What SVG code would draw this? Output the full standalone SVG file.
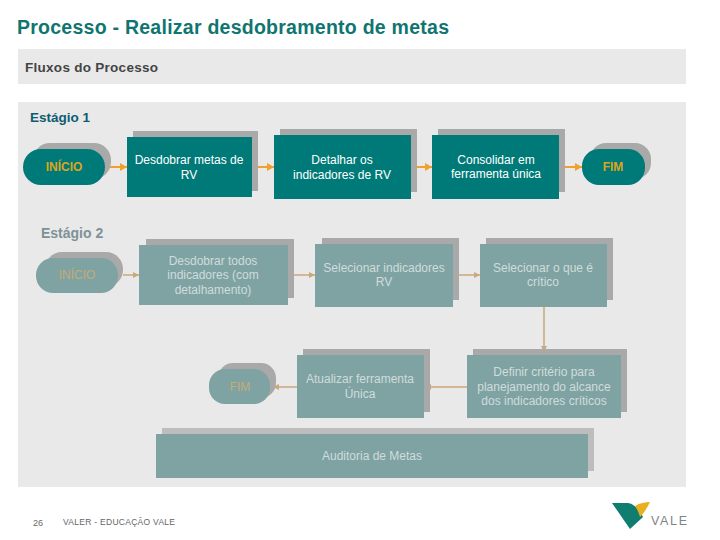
<svg xmlns="http://www.w3.org/2000/svg" width="720" height="540" viewBox="0 0 720 540">
<style>
text{font-family:"Liberation Sans",Arial,sans-serif}
.s{fill:#a9a9a9}
.a{fill:#007a78}
.m{fill:#7fa3a3}
.ta{fill:#fff;font-size:12px;text-anchor:middle}
.tm{fill:#cfdcdc;font-size:12px;text-anchor:middle}
.ga{fill:#dba51f;font-size:12px;font-weight:bold;text-anchor:middle}
.gm{fill:#c4ac78;font-size:12px;text-anchor:middle}
.ca{stroke:#f0a030;stroke-width:2;fill:none;marker-end:url(#ha)}
.cm{stroke:#c9a97c;stroke-width:1.5;fill:none;marker-end:url(#hm)}
</style>
<defs>
<marker id="ha" markerUnits="userSpaceOnUse" markerWidth="8" markerHeight="8" refX="7" refY="4" orient="auto"><path d="M0 0L7 4L0 8z" fill="#f0a030"/></marker>
<marker id="hm" markerUnits="userSpaceOnUse" markerWidth="6" markerHeight="6" refX="6" refY="3" orient="auto"><path d="M0 0L6 3L0 6z" fill="#c9a97c"/></marker>
</defs>
<rect width="720" height="540" fill="#fff"/>
<text x="17" y="34" font-size="19.5" font-weight="bold" fill="#0f7570" textLength="432">Processo - Realizar desdobramento de metas</text>
<rect x="18" y="49" width="668" height="35" fill="#e9e9e9"/>
<text x="25" y="72" font-size="13.5" font-weight="bold" fill="#444" textLength="133">Fluxos do Processo</text>
<rect x="18" y="102" width="668" height="385" fill="#e9e9e9"/>
<text x="30" y="122" font-size="13.5" font-weight="bold" fill="#0f5c70">Estágio 1</text>
<text x="41" y="238" font-size="14" font-weight="bold" fill="#7d9298">Estágio 2</text>

<g id="connectors">
<path class="ca" d="M105 167H127"/>
<path class="ca" d="M252 167H274"/>
<path class="ca" d="M411 167H432"/>
<path class="ca" d="M559 167H582"/>
<path class="cm" d="M123 275H139"/>
<path class="cm" d="M288 275H315"/>
<path class="cm" d="M453 275H480"/>
<path class="cm" d="M544 307V352"/>
<path class="cm" d="M467 387H425"/>
<path class="cm" d="M297 387H273"/>
</g>

<g id="n-inicio1"><rect class="s" x="33" y="143" width="78" height="36" rx="17"/><rect class="a" x="23" y="149" width="82" height="36" rx="18"/><text class="ga" x="64" y="171">INÍCIO</text></g>
<g id="n-desdobrar-metas"><rect class="s" x="133" y="131" width="125" height="60"/><rect class="a" x="127" y="137" width="125" height="60"/><text class="ta" x="189" y="164">Desdobrar metas de</text><text class="ta" x="189" y="179">RV</text></g>
<g id="n-detalhar"><rect class="s" x="280" y="129" width="137" height="63"/><rect class="a" x="274" y="135" width="137" height="64"/><text class="ta" x="342" y="164">Detalhar os</text><text class="ta" x="342" y="179">indicadores de RV</text></g>
<g id="n-consolidar"><rect class="s" x="438" y="129" width="127" height="63"/><rect class="a" x="432" y="135" width="127" height="64"/><text class="ta" x="496" y="164">Consolidar em</text><text class="ta" x="496" y="178">ferramenta única</text></g>
<g id="n-fim1"><rect class="s" x="590" y="143" width="61" height="36" rx="16"/><rect class="a" x="582" y="149" width="63" height="36" rx="17"/><text class="ga" x="613" y="171">FIM</text></g>

<g id="n-inicio2"><rect class="s" x="45" y="252" width="78" height="35" rx="17"/><rect class="m" x="36" y="258" width="82" height="35" rx="17"/><text class="gm" x="77" y="279">INÍCIO</text></g>
<g id="n-desdobrar-todos"><rect class="s" x="146" y="239" width="148" height="59"/><rect class="m" x="139" y="245" width="149" height="60"/><text class="tm" x="213" y="265">Desdobrar todos</text><text class="tm" x="213" y="279">indicadores (com</text><text class="tm" x="213" y="294">detalhamento)</text></g>
<g id="n-selecionar-ind"><rect class="s" x="322" y="238" width="137" height="62"/><rect class="m" x="315" y="244" width="138" height="63"/><text class="tm" x="384" y="272">Selecionar indicadores</text><text class="tm" x="384" y="286">RV</text></g>
<g id="n-selecionar-crit"><rect class="s" x="486" y="238" width="127" height="62"/><rect class="m" x="480" y="244" width="127" height="63"/><text class="tm" x="543" y="272">Selecionar o que é</text><text class="tm" x="543" y="286">crítico</text></g>
<g id="n-definir"><rect class="s" x="473" y="349" width="154" height="63"/><rect class="m" x="467" y="355" width="154" height="63"/><text class="tm" x="544" y="376">Definir critério para</text><text class="tm" x="544" y="391">planejamento do alcance</text><text class="tm" x="544" y="405">dos indicadores críticos</text></g>
<g id="n-atualizar"><rect class="s" x="303" y="349" width="127" height="63"/><rect class="m" x="297" y="355" width="127" height="63"/><text class="tm" x="360" y="383">Atualizar ferramenta</text><text class="tm" x="360" y="398">Única</text></g>
<g id="n-fim2"><rect class="s" x="218" y="363" width="58" height="35" rx="15"/><rect class="m" x="209" y="369" width="61" height="35" rx="16"/><text class="gm" x="240" y="391">FIM</text></g>
<g id="n-auditoria"><rect x="162" y="428" width="432" height="43" fill="#bdbdbd"/><rect class="m" x="156" y="434" width="432" height="44"/><text class="tm" x="372" y="460">Auditoria de Metas</text></g>

<text x="33" y="526" font-size="9" fill="#666">26</text>
<text x="63" y="525" font-size="8.5" fill="#666" textLength="112">VALER - EDUCAÇÃO VALE</text>
<g id="logo">
<path d="M612 503H628C635 504 640 511 643 517L630 529Z" fill="#0f7d70"/>
<path d="M635 506C640 503 645 502 650 502C646 510 643 514 640 517C639 513 637 509 635 506Z" fill="#e8b020"/>
<text x="651" y="525" font-size="12.5" fill="#7d8488" textLength="36">VALE</text>
</g>
</svg>
